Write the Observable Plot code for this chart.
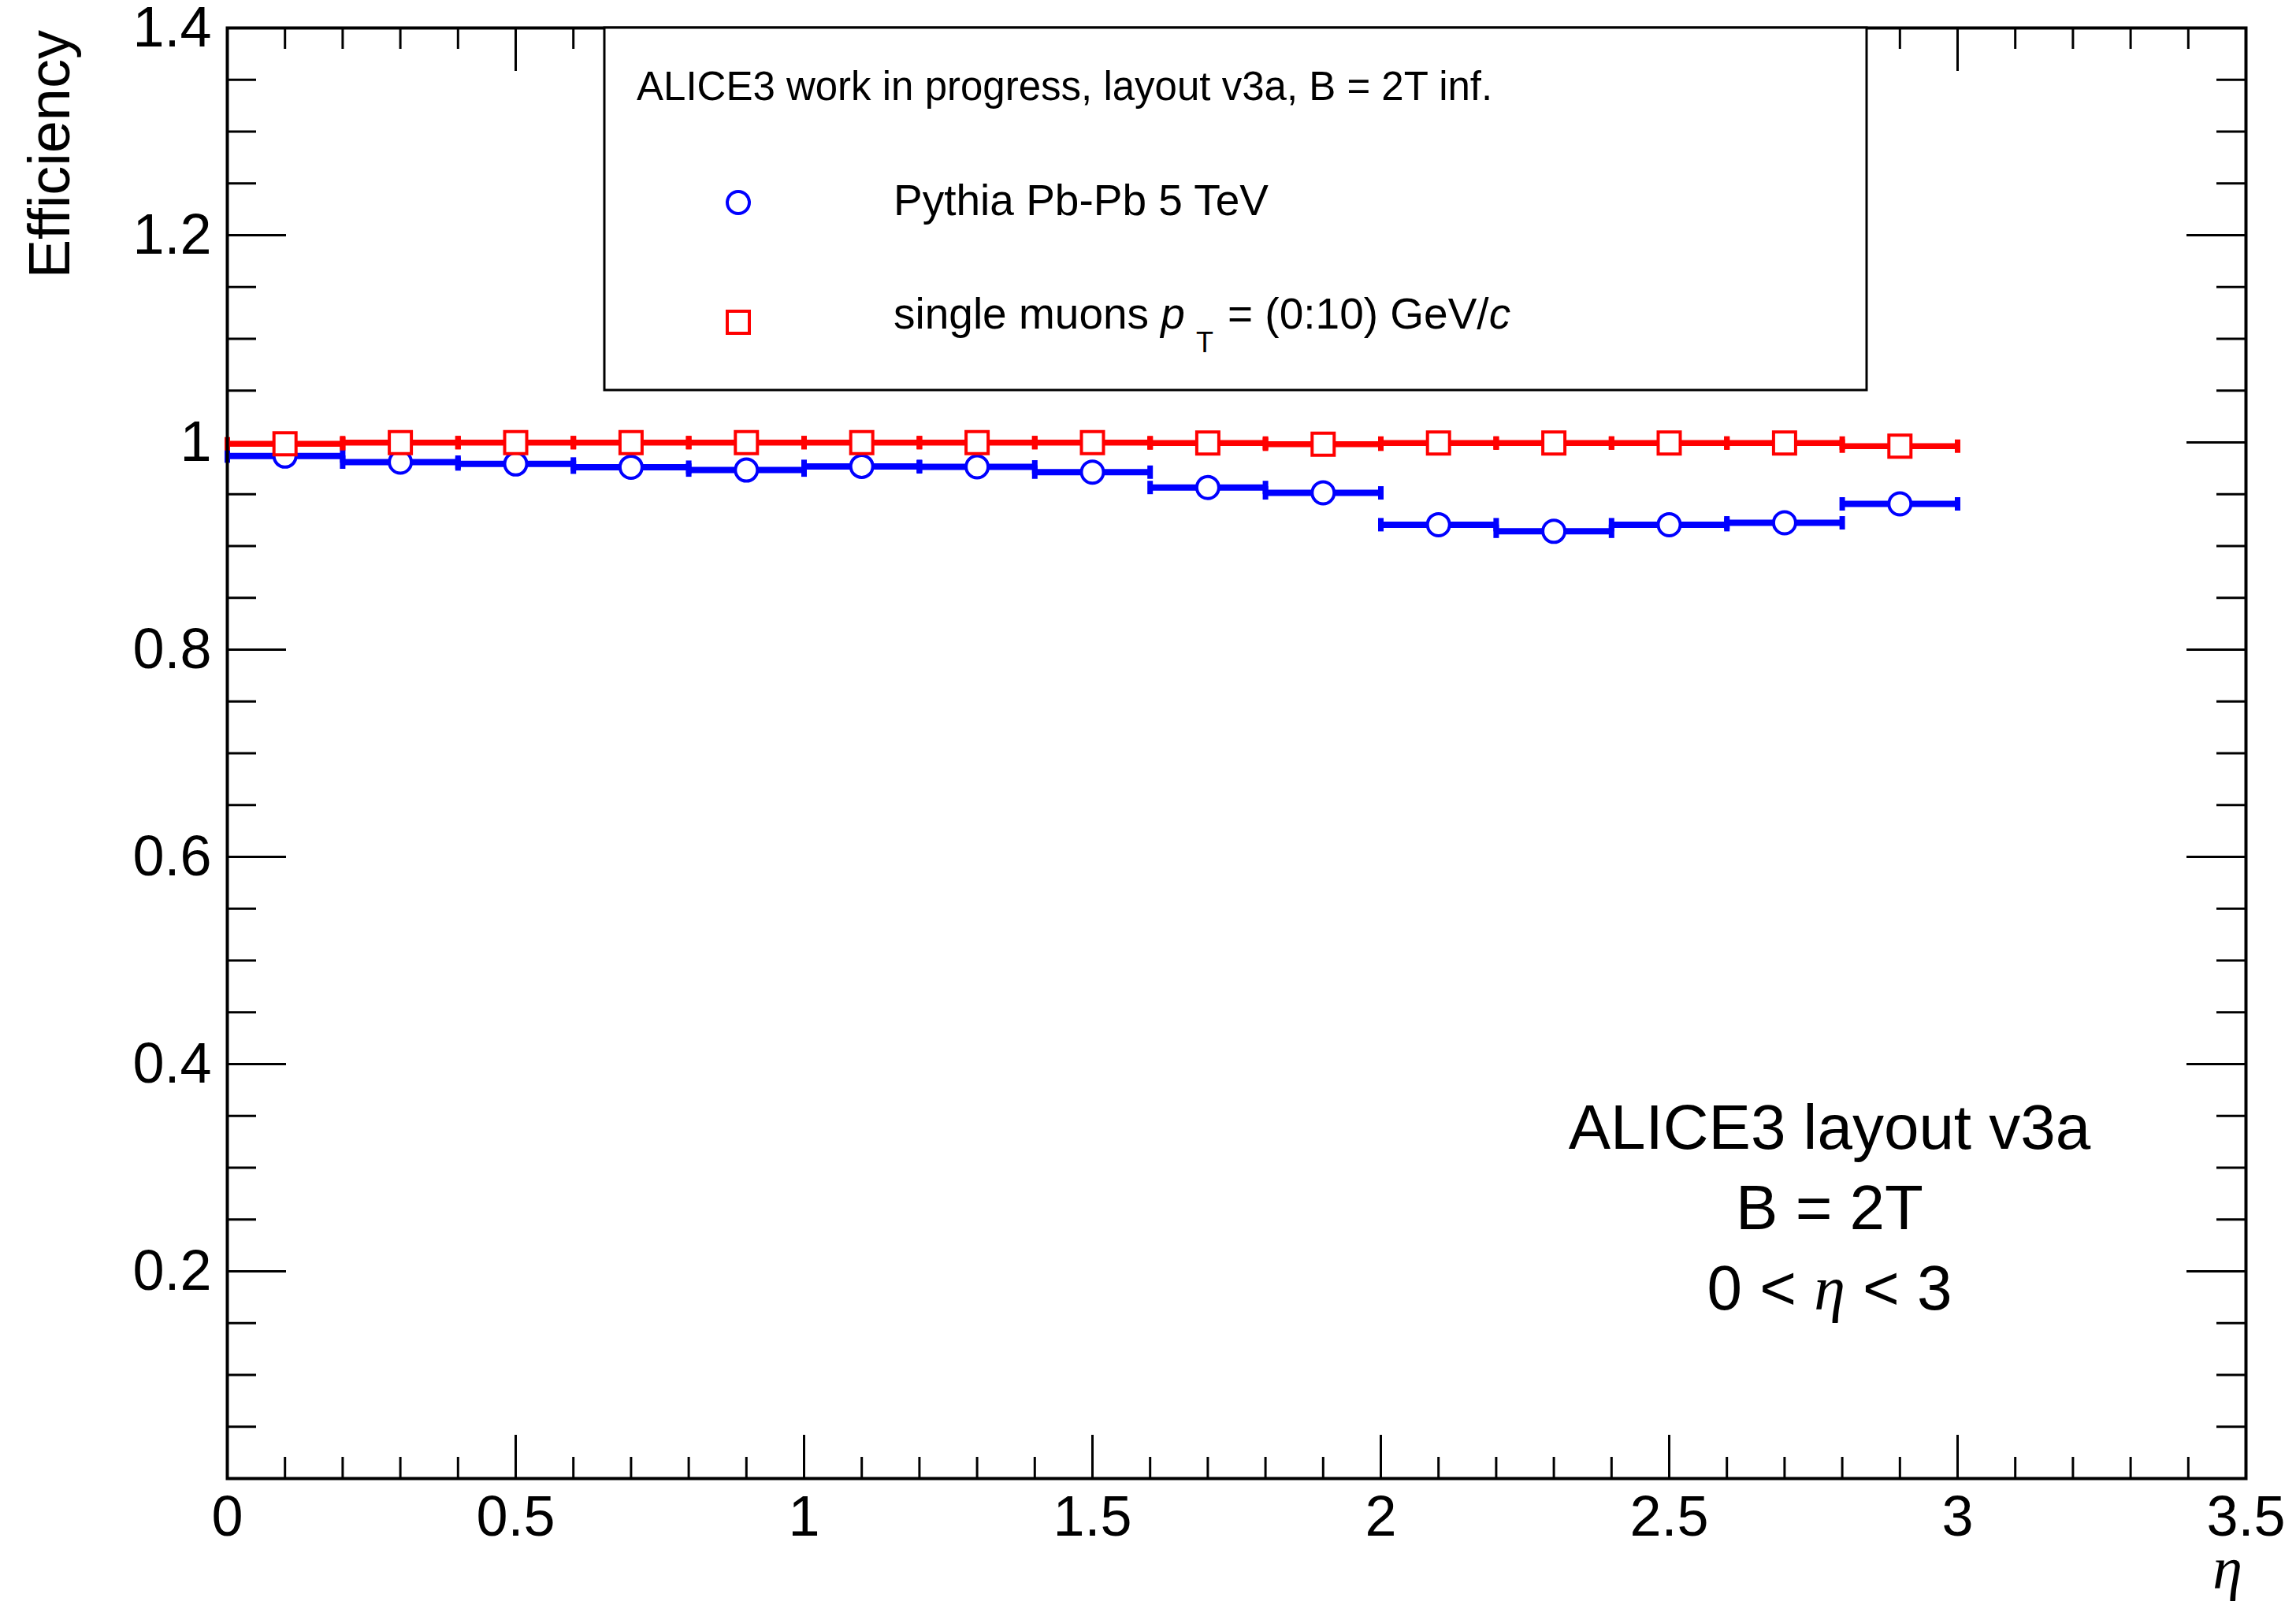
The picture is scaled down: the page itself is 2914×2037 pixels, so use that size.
<!DOCTYPE html>
<html>
<head>
<meta charset="utf-8">
<script src="https://cdn.jsdelivr.net/npm/d3@7"></script>
<script src="https://cdn.jsdelivr.net/npm/@observablehq/plot@0.6"></script>
<style>
  html, body { margin: 0; padding: 0; background: white; }
</style>
</head>
<body>
<div id="chart"></div>
<script>
// ---- data ----
const binEdges = [0, 0.2, 0.4, 0.6, 0.8, 1.0, 1.2, 1.4, 1.6, 1.8, 2.0, 2.2, 2.4, 2.6, 2.8, 3.0];
const pythiaEff = [0.9868, 0.9810, 0.9792, 0.9761, 0.9733, 0.9769, 0.9764, 0.9713, 0.9565, 0.9513, 0.9206, 0.9142, 0.9206, 0.9224, 0.9407];
const muonEff   = [0.9987, 0.9998, 0.9998, 0.9998, 0.9998, 0.9998, 0.9998, 0.9998, 0.9994, 0.9982, 0.9994, 0.9994, 0.9994, 0.9994, 0.9964];
const xTickValues = [0, 0.5, 1, 1.5, 2, 2.5, 3, 3.5];
const xTickLabels = ["0", "0.5", "1", "1.5", "2", "2.5", "3", "3.5"];
const yTickValues = [0.2, 0.4, 0.6, 0.8, 1.0, 1.2, 1.4];
const yTickLabels = ["0.2", "0.4", "0.6", "0.8", "1", "1.2", "1.4"];
const seriesNames = ["Pythia Pb-Pb 5 TeV", "single muons"];
const legendHeader = "ALICE3 work in progress, layout v3a, B = 2T inf.";
const yTitle = "Efficiency";
const xTitle = "η";
const infoLines = ["ALICE3 layout v3a", "B = 2T"];

// ---- layout ----
const W = 2914, H = 2037;
const mL = 288, mR = 64, mT = 35, mB = 161;
const pw = W - mL - mR, ph = H - mT - mB;
const BLUE = "#0000ff", RED = "#ff0000";

function rows(eff, series) {
  return eff.map((e, i) => ({series, lo: binEdges[i], hi: binEdges[i + 1], c: (binEdges[i] + binEdges[i + 1]) / 2, eff: e}));
}
const blueRows = rows(pythiaEff, "pythia");
const redRows = rows(muonEff, "muon");
function caps(rs) {
  const out = [];
  for (const r of rs) { out.push({x: r.lo, y: r.eff}); out.push({x: r.hi, y: r.eff}); }
  return out;
}
const capSymbol = { draw(ctx) { ctx.moveTo(-3.5, -8.5); ctx.lineTo(3.5, -8.5); ctx.lineTo(3.5, 8.5); ctx.lineTo(-3.5, 8.5); ctx.closePath(); } };

const xMinor = d3.range(0, 36).map(i => i / 10).filter((v, i) => i % 5 !== 0);
const xMajor = xTickValues;
const yMinor = d3.range(0, 29).map(i => i / 20).filter((v, i) => i % 4 !== 0);
const yMajor = [0, ...yTickValues];

const chart = Plot.plot({
  width: W, height: H,
  marginLeft: mL, marginRight: mR, marginTop: mT, marginBottom: mB,
  x: {domain: [0, 3.5], axis: null},
  y: {domain: [0, 1.4], axis: null},
  style: {fontFamily: "'Liberation Sans', Arial, Helvetica, sans-serif", background: "white", color: "black"},
  marks: [
    // ticks (ROOT-style, inside the frame on all four sides)
    Plot.ruleX(xMinor, {insetTop: ph - 27, stroke: "black", strokeWidth: 3}),
    Plot.ruleX(xMajor, {insetTop: ph - 55, stroke: "black", strokeWidth: 3}),
    Plot.ruleX(xMinor, {insetBottom: ph - 27, stroke: "black", strokeWidth: 3}),
    Plot.ruleX(xMajor, {insetBottom: ph - 55, stroke: "black", strokeWidth: 3}),
    Plot.ruleY(yMinor, {insetRight: pw - 37, stroke: "black", strokeWidth: 3}),
    Plot.ruleY(yMajor, {insetRight: pw - 75, stroke: "black", strokeWidth: 3}),
    Plot.ruleY(yMinor, {insetLeft: pw - 37, stroke: "black", strokeWidth: 3}),
    Plot.ruleY(yMajor, {insetLeft: pw - 75, stroke: "black", strokeWidth: 3}),
    // tick labels
    Plot.text(xTickValues, {x: d => d, text: (d, i) => xTickLabels[i], frameAnchor: "bottom", lineAnchor: "top", dy: 21, fontSize: 72, fill: "black"}),
    Plot.text(yTickValues, {y: d => d, text: (d, i) => yTickLabels[i], frameAnchor: "left", textAnchor: "end", lineAnchor: "middle", dx: -20, fontSize: 72, fill: "black"}),
    // data: horizontal bin-width error bars
    Plot.link(blueRows, {x1: "lo", x2: "hi", y1: "eff", y2: "eff", stroke: BLUE, strokeWidth: 8, strokeLinecap: "butt"}),
    Plot.dot(caps(blueRows), {x: "x", y: "y", symbol: capSymbol, fill: BLUE, stroke: "none", r: 5}),
    Plot.link(redRows, {x1: "lo", x2: "hi", y1: "eff", y2: "eff", stroke: RED, strokeWidth: 7.5, strokeLinecap: "butt"}),
    Plot.dot(caps(redRows), {x: "x", y: "y", symbol: capSymbol, fill: RED, stroke: "none", r: 5}),
    // markers
    Plot.dot(blueRows, {x: "c", y: "eff", r: 14, stroke: BLUE, strokeWidth: 4, fill: "white"}),
    Plot.dot(redRows, {x: "c", y: "eff", symbol: "square", r: 28 / Math.sqrt(Math.PI), stroke: RED, strokeWidth: 4, fill: "white"}),
    Plot.frame({stroke: "black", strokeWidth: 4})
  ]
});

const svg = d3.select(chart);
const FONT = "'Liberation Sans', Arial, Helvetica, sans-serif";
const SERIF = "'Liberation Serif', 'Times New Roman', serif";

// y-axis title
svg.append("text")
  .attr("transform", "translate(88,38) rotate(-90)")
  .attr("text-anchor", "end").attr("font-family", FONT).attr("font-size", 74).attr("fill", "black")
  .text(yTitle);

// x-axis title
svg.append("text")
  .attr("x", 2846).attr("y", 2016).attr("text-anchor", "end")
  .attr("font-family", SERIF).attr("font-style", "italic").attr("font-size", 76).attr("fill", "black")
  .text(xTitle);

// info text bottom right
const info = svg.append("g").attr("font-family", FONT).attr("font-size", 80).attr("fill", "black").attr("text-anchor", "middle");
info.append("text").attr("x", 2322).attr("y", 1458).text(infoLines[0]);
info.append("text").attr("x", 2322).attr("y", 1560).text(infoLines[1]);
const l3 = info.append("text").attr("x", 2322).attr("y", 1662);
l3.append("tspan").text("0 < ");
l3.append("tspan").attr("font-family", SERIF).attr("font-style", "italic").text("η");
l3.append("tspan").text(" < 3");

// legend box
const lg = svg.append("g").attr("font-family", FONT).attr("fill", "black").attr("text-anchor", "start");
lg.append("rect").attr("x", 767).attr("y", 35).attr("width", 1602).attr("height", 460)
  .attr("fill", "white").attr("stroke", "black").attr("stroke-width", 3);
lg.append("text").attr("x", 808).attr("y", 127).attr("font-size", 51).text(legendHeader);
lg.append("circle").attr("cx", 937).attr("cy", 257).attr("r", 14).attr("fill", "none").attr("stroke", BLUE).attr("stroke-width", 4);
lg.append("text").attr("x", 1134).attr("y", 273).attr("font-size", 55).text(seriesNames[0]);
lg.append("rect").attr("x", 923).attr("y", 395).attr("width", 28).attr("height", 28).attr("fill", "none").attr("stroke", RED).attr("stroke-width", 4);
const t2 = lg.append("text").attr("x", 1134).attr("y", 417).attr("font-size", 55);
t2.append("tspan").text(seriesNames[1] + " ");
t2.append("tspan").attr("font-style", "italic").text("p");
t2.append("tspan").attr("font-size", 36).attr("dx", 14).attr("dy", 30).text("T");
t2.append("tspan").attr("dx", 18).attr("dy", -30).text("= (0:10) GeV/");
t2.append("tspan").attr("font-style", "italic").text("c");

document.getElementById("chart").appendChild(chart);
</script>
</body>
</html>
